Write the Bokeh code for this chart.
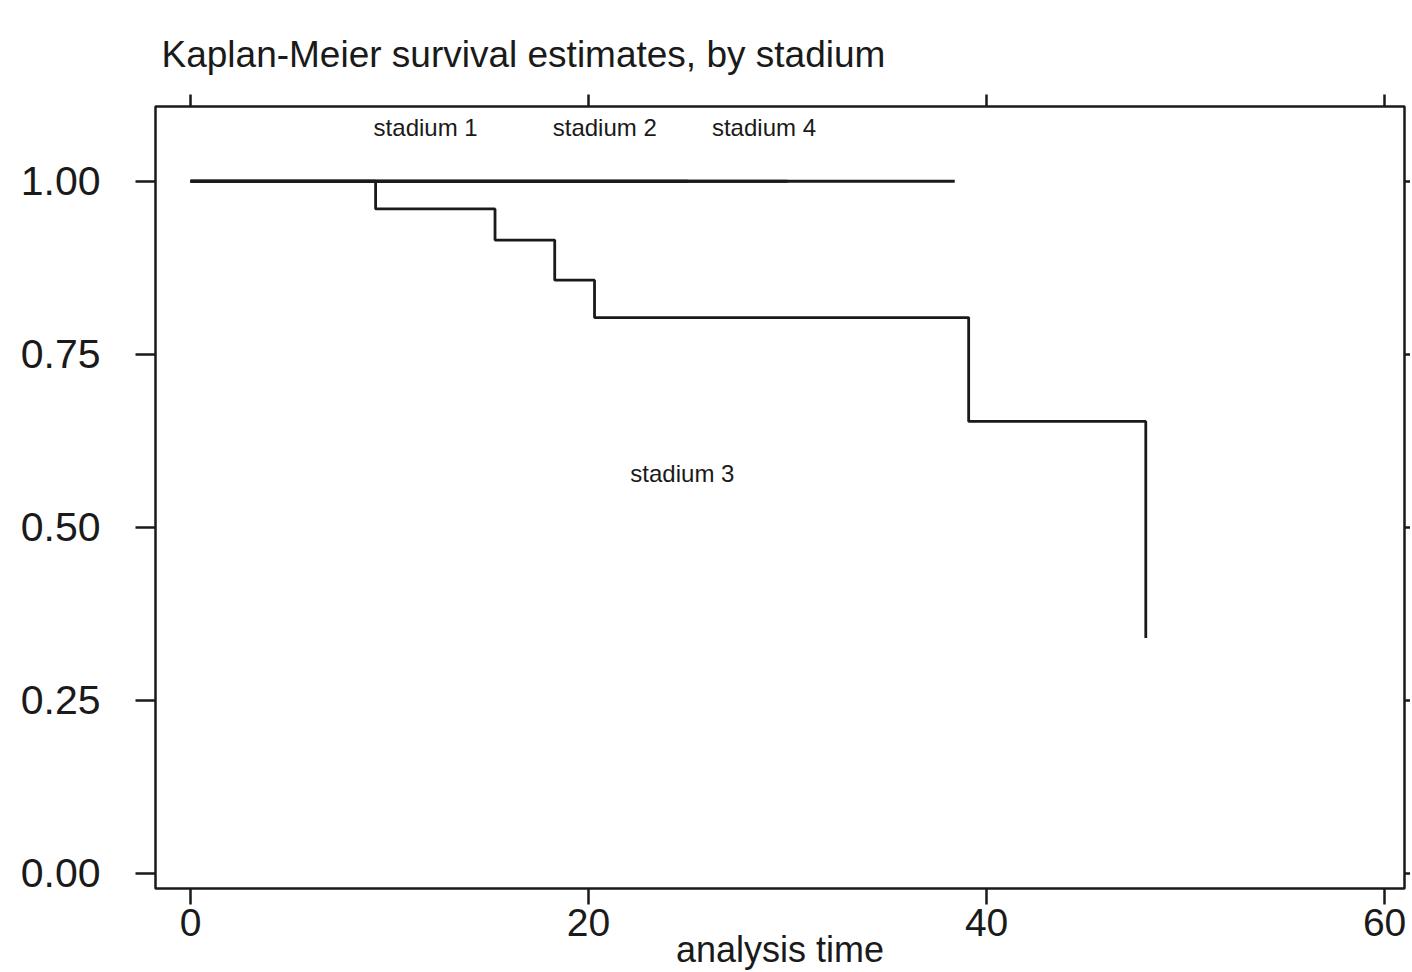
from bokeh.plotting import figure
from bokeh.models import LinearAxis, FixedTicker, Range1d, ColumnDataSource
from bokeh.core.properties import value
from bokeh.embed import file_html
from bokeh.resources import INLINE

# ---- data ----
stadium3_time = [0, 9.3, 15.3, 18.3, 20.3, 39.1, 48.0]
stadium3_surv = [1.0, 0.96, 0.915, 0.857, 0.803, 0.653, 0.34]
stadium1_time = [0, 38.4]
stadium1_surv = [1.0, 1.0]
stadium2_time = [0, 30]
stadium2_surv = [1.0, 1.0]
stadium4_time = [0, 25]
stadium4_surv = [1.0, 1.0]

label_text = ["stadium 1", "stadium 2", "stadium 4", "stadium 3"]
label_x = [9.2, 18.2, 26.2, 22.1]
label_y = [1.077, 1.077, 1.077, 0.578]

x_ticks = [0, 20, 40, 60]
y_ticks = [0.0, 0.25, 0.5, 0.75, 1.0]
y_tick_labels = ["0.00", "0.25", "0.50", "0.75", "1.00"]

FONT = "Liberation Sans"
INK = "#1a1a1a"

p = figure(width=1410, height=972, output_backend="svg", toolbar_location=None,
           x_range=Range1d(-1.76, 61.0), y_range=Range1d(-0.022, 1.108),
           min_border_left=155, min_border_right=6, min_border_top=106, min_border_bottom=75,
           x_axis_location=None, y_axis_location=None,
           title="Kaplan-Meier survival estimates, by stadium")
p.background_fill_color = "white"
p.border_fill_color = "white"
p.outline_line_color = INK
p.outline_line_width = 2.5
p.xgrid.visible = False
p.ygrid.visible = False

p.title.text_font = FONT
p.title.text_font_size = "37px"
p.title.text_font_style = "normal"
p.title.text_color = INK
p.title.align = "left"
p.title.vertical_align = "top"
p.title.offset = 6
p.title.standoff = 36

def style_axis(ax, tick_out, size="38px", standoff=5):
    ax.axis_line_color = None
    ax.major_tick_line_color = INK
    ax.major_tick_line_width = 2.5
    ax.major_tick_in = 0
    ax.major_tick_out = tick_out
    ax.minor_tick_line_color = None
    ax.major_label_text_font = FONT
    ax.major_label_text_color = INK
    ax.major_label_standoff = standoff
    ax.major_label_text_font_size = size

xb = LinearAxis(ticker=FixedTicker(ticks=x_ticks), axis_label="analysis time")
style_axis(xb, 16, "39px", 4)
xb.axis_label_text_font = FONT
xb.axis_label_text_font_size = "36px"
xb.axis_label_text_font_style = "normal"
xb.axis_label_text_color = INK
xb.axis_label_standoff = -10
p.add_layout(xb, "below")

# mirrored tick marks on the top and right edges (no labels in the reference)
xt = LinearAxis(ticker=FixedTicker(ticks=x_ticks),
                major_label_overrides={t: "" for t in x_ticks})
style_axis(xt, 12, "10px", 0)
p.add_layout(xt, "above")

yl = LinearAxis(ticker=FixedTicker(ticks=y_ticks),
                major_label_overrides={t: l for t, l in zip(y_ticks, y_tick_labels)})
style_axis(yl, 20, "41px", 35)
p.add_layout(yl, "left")

yr = LinearAxis(ticker=FixedTicker(ticks=y_ticks),
                major_label_overrides={t: "" for t in y_ticks})
style_axis(yr, 6, "10px", 0)
p.add_layout(yr, "right")

for t, s in [(stadium1_time, stadium1_surv), (stadium2_time, stadium2_surv),
             (stadium4_time, stadium4_surv), (stadium3_time, stadium3_surv)]:
    p.step(x=t, y=s, mode="after", line_color=INK, line_width=2.8)

src = ColumnDataSource(dict(x=label_x, y=label_y, text=label_text))
p.text(x="x", y="y", text="text", source=src, text_font=value(FONT),
       text_font_size="24px", text_color=INK, text_align="left", text_baseline="middle")

open("out.html", "w").write(file_html(p, INLINE))
